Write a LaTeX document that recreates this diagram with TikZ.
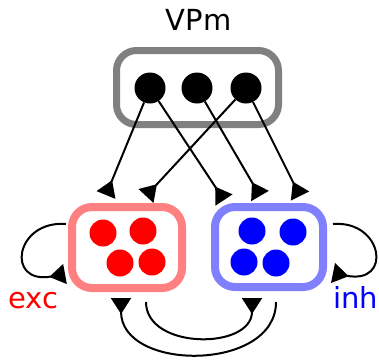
\documentclass[tikz,border=0pt]{standalone}
\usepackage{fontspec}
\setmainfont{DejaVu Sans}
\usetikzlibrary{arrows.meta}
\definecolor{excframe}{RGB}{255,128,128}
\definecolor{inhframe}{RGB}{128,128,255}
\definecolor{vpmframe}{RGB}{128,128,128}
\begin{document}
\begin{tikzpicture}[x=1pt,y=-1pt,
  group/.style={draw, rounded corners=20pt, line width=#1, inner sep=0pt},
  group/.default=7pt,
  neuron/.style={circle, fill, inner sep=0pt, minimum size=#1},
  conn/.style={line width=2pt, -{Triangle[reversed,width=20pt,length=16pt]}},
  lbl/.style={font=\fontsize{29}{34}\selectfont, inner sep=0pt, anchor=base}]
\useasboundingbox (0,0) rectangle (379,359);

% population frames
\node[group, draw=vpmframe, minimum width=162pt, minimum height=74pt] (vpm) at (197.5,87.5) {};
\node[group=8pt, draw=excframe, minimum width=110pt, minimum height=81pt] (exc) at (127,247.5) {};
\node[group=8pt, draw=inhframe, minimum width=108pt, minimum height=80pt] (inh) at (269,247) {};

% neurons
\node[neuron=31pt, fill=black] (v1) at (150,88) {};
\node[neuron=31pt, fill=black] (v2) at (197,88) {};
\node[neuron=31pt, fill=black] (v3) at (246,88) {};
\node[neuron=27pt, fill=red] (e1) at (103,233) {};
\node[neuron=27pt, fill=red] (e2) at (143,231) {};
\node[neuron=27pt, fill=red] (e3) at (120,263) {};
\node[neuron=27pt, fill=red] (e4) at (152,262) {};
\node[neuron=27pt, fill=blue] (i1) at (252,231) {};
\node[neuron=27pt, fill=blue] (i2) at (293,232) {};
\node[neuron=27pt, fill=blue] (i3) at (244,262) {};
\node[neuron=27pt, fill=blue] (i4) at (276,263) {};

% labels
\node[lbl] (vpmlabel) at (198.5,30) {VPm};
\node[lbl, text=red] (exclabel) at (33.5,308) {exc};
\node[lbl, text=blue] (inhlabel) at (355.5,308) {inh};

% connector end points
\coordinate (t1) at (106,195);
\coordinate (t2) at (146,196);
\coordinate (t3) at (224,200);
\coordinate (t4) at (260,196);
\coordinate (t5) at (300,196);
\coordinate (els) at (66,224);
\coordinate (ele) at (65,274);
\coordinate (ils) at (333,224);
\coordinate (ile) at (333,273);
\coordinate (eout) at (146,302);
\coordinate (iin) at (252,298);
\coordinate (iout) at (276,302);
\coordinate (ein) at (121,298);

% projections from VPm
\draw[conn] (v1) -- (t1);
\draw[conn] (v3) -- (t2);
\draw[conn] (v1) -- (t3);
\draw[conn] (v2) -- (t4);
\draw[conn] (v3) -- (t5);

% recurrent loops
\draw[conn] (els) .. controls (15,220) and (5,285) .. (ele);
\draw[conn] (ils) .. controls (383,220) and (393,285) .. (ile);

% exc <-> inh
\draw[conn] (eout) .. controls (146,350) and (252,350) .. (iin);
\draw[conn] (iout) .. controls (276,372) and (121,372) .. (ein);
\end{tikzpicture}
\end{document}
